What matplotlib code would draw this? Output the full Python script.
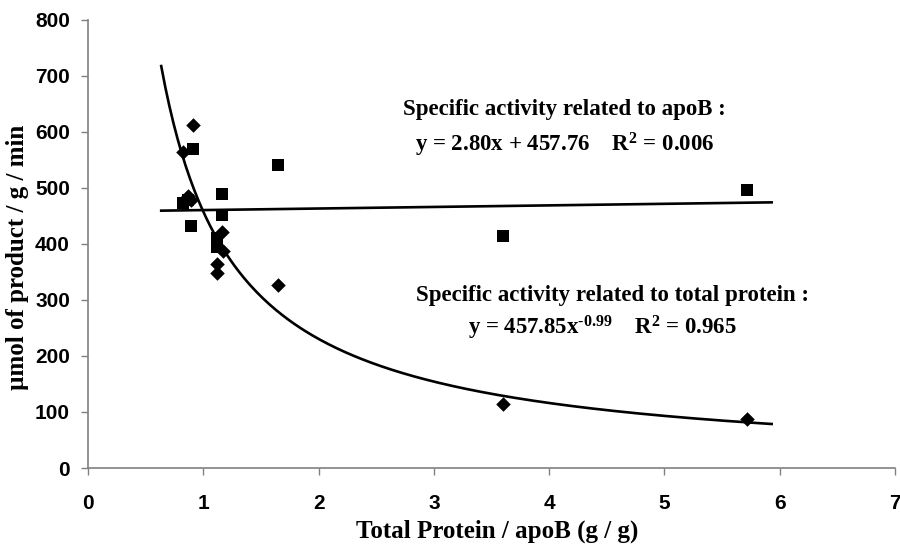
import numpy as np
import matplotlib
matplotlib.use("Agg")
import matplotlib.pyplot as plt

# Data
ratio_tp = [0.82, 0.91, 0.87, 0.89, 1.12, 1.12, 1.16, 1.17, 1.65, 3.60, 5.72]
act_tp = [565, 612, 485, 478, 364, 349, 421, 388, 327, 115, 88]

ratio_apob = [0.82, 0.91, 0.87, 0.89, 1.12, 1.12, 1.16, 1.16, 1.65, 3.60, 5.72]
act_apob = [473, 570, 478, 433, 410, 395, 490, 451, 541, 415, 497]

lin_slope, lin_icpt = 2.80, 457.76
pow_a, pow_b = 457.85, -0.99
trend_range = [0.635, 5.93]

xticks = [0, 1, 2, 3, 4, 5, 6, 7]
yticks = [0, 100, 200, 300, 400, 500, 600, 700, 800]

plt.rcParams['mathtext.fontset'] = 'custom'
plt.rcParams['mathtext.rm'] = 'Liberation Serif:bold'
plt.rcParams['mathtext.bf'] = 'Liberation Serif:bold'
plt.rcParams['mathtext.default'] = 'bf'

fig = plt.figure(figsize=(9, 5.49), dpi=100)
ax = fig.add_axes([88/900, 1-468/549, (895-88)/900, (468-20)/549])

xs = np.linspace(trend_range[0], trend_range[1], 300)
ax.plot(xs, lin_slope*xs + lin_icpt, color='black', lw=1.9, zorder=2)
ax.plot(xs, pow_a*xs**pow_b, color='black', lw=1.9, zorder=2)

ax.scatter(ratio_apob, act_apob, marker='s', s=80, color='black', zorder=3, linewidths=0)
ax.scatter(ratio_tp, act_tp, marker='D', s=55, color='black', zorder=3, linewidths=0)

ax.set_xlim(0, 7)
ax.set_ylim(0, 800)
ax.set_xticks(xticks)
ax.set_yticks(yticks)
for s in ['top', 'right']:
    ax.spines[s].set_visible(False)
for s in ['left', 'bottom']:
    ax.spines[s].set_color('#808080')
    ax.spines[s].set_linewidth(1.2)
ax.tick_params(direction='out', length=5, width=1, color='#808080')
for lab in ax.get_xticklabels() + ax.get_yticklabels():
    lab.set_fontfamily('Liberation Sans')
    lab.set_fontweight('bold')
    lab.set_fontsize(15)
ax.tick_params(axis='x', pad=14)
ax.tick_params(axis='y', pad=8)

lkw = dict(fontfamily='Liberation Serif', fontweight='bold', fontsize=18,
           ha='center', va='center', transform=fig.transFigure)
fig.text(497/900, 1-531/549, 'Total Protein / apoB (g / g)', **lkw)
fig.text(18/900, 1-257/549, 'µmol of product / g / min', rotation=90, **lkw)

tkw = dict(fontfamily='Liberation Serif', fontweight='bold', fontsize=16.5,
           ha='center', va='center', transform=fig.transFigure)
fig.text(564/900, 1-110/549, 'Specific activity related to apoB :', **tkw)
fig.text(565/900, 1-145/549, 'y = 2.80x + 457.76    R$^{2}$ = 0.006', **tkw)
fig.text(613/900, 1-296/549, 'Specific activity related to total protein :', **tkw)
fig.text(602/900, 1-328/549, r'y = 457.85x$^{\text{-0.99}}$    R$^{2}$ = 0.965', **tkw)

fig.savefig('out.png', dpi=100)
